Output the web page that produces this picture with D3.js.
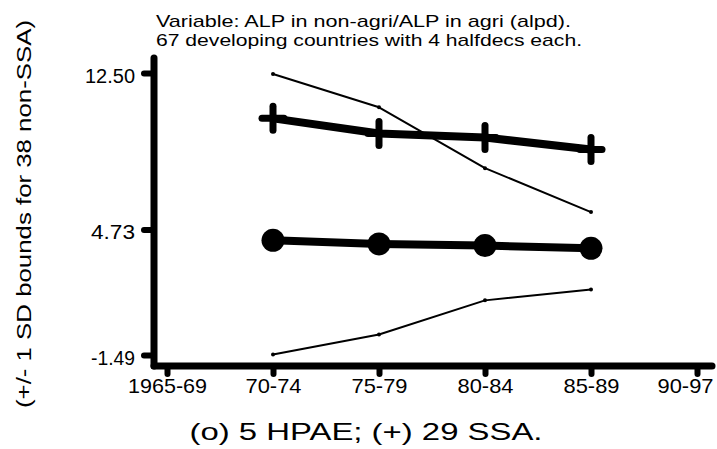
<!DOCTYPE html>
<html>
<head>
<meta charset="utf-8">
<script src="https://cdn.jsdelivr.net/npm/d3@7"></script>
<style>
  html, body { margin: 0; padding: 0; background: #fff; }
  svg { display: block; }
</style>
</head>
<body>
<svg id="chart" width="717" height="449"></svg>
<script>
// ---- data ----
const categories = ["1965-69", "70-74", "75-79", "80-84", "85-89", "90-97"];
const yTickValues = [-1.49, 4.73, 12.50];
const yTickLabels = ["-1.49", "4.73", "12.50"];
const seriesPeriods = ["70-74", "75-79", "80-84", "85-89"];
const upperBound = [12.45, 10.80, 7.78, 5.60];   // +1 SD, 38 non-SSA
const ssaValues = [10.25, 9.50, 9.30, 8.70];     // (+) 29 SSA
const hpaeValues = [4.20, 4.02, 3.94, 3.80];     // (o) 5 HPAE
const lowerBound = [-1.46, -0.47, 1.22, 1.76];    // -1 SD, 38 non-SSA
const titleLines = ["Variable: ALP in non-agri/ALP in agri (alpd).",
                    "67 developing countries with 4 halfdecs each."];
const yAxisTitle = "(+/- 1 SD bounds for 38 non-SSA)";
const xAxisTitle = "(o) 5 HPAE; (+) 29 SSA.";

const FONT = "'Liberation Sans', Arial, Arimo, Helvetica, sans-serif";

// ---- layout ----
const svg = d3.select("#chart").style("font-family", FONT);
const x = d3.scalePoint().domain(categories).range([167, 697]);
const y = d3.scaleLinear().domain([-1.49, 12.50]).range([355, 73]);
const axisX = 154, axisY = 366, xEnd = 712;

function txt(g) {
  return g.append("text").style("font-family", FONT).attr("fill", "#000");
}

// titles
txt(svg).attr("x", 156).attr("y", 27).style("font-size", "17px")
  .attr("textLength", 415).attr("lengthAdjust", "spacingAndGlyphs").text(titleLines[0]);
txt(svg).attr("x", 156).attr("y", 46).style("font-size", "17px")
  .attr("textLength", 426).attr("lengthAdjust", "spacingAndGlyphs").text(titleLines[1]);

txt(svg)
  .attr("transform", "translate(31,214) rotate(-90)")
  .attr("text-anchor", "middle").style("font-size", "21px")
  .attr("textLength", 388).attr("lengthAdjust", "spacingAndGlyphs")
  .text(yAxisTitle);

txt(svg)
  .attr("x", 366).attr("y", 440).attr("text-anchor", "middle").style("font-size", "24px")
  .attr("textLength", 353).attr("lengthAdjust", "spacingAndGlyphs")
  .text(xAxisTitle);

// axes lines
const axes = svg.append("g").attr("stroke", "#000").attr("stroke-linecap", "round").attr("fill", "none");
axes.append("line").attr("x1", axisX).attr("x2", axisX).attr("y1", 58).attr("y2", axisY).attr("stroke-width", 7);
axes.append("line").attr("x1", axisX).attr("x2", xEnd).attr("y1", axisY).attr("y2", axisY).attr("stroke-width", 7);

// y axis ticks
const yAxis = d3.axisLeft(y).tickValues(yTickValues).tickSize(0)
  .tickFormat((d, i) => yTickLabels[i]);
const gy = svg.append("g").attr("transform", `translate(${axisX},0)`).call(yAxis);
gy.select(".domain").remove();
gy.selectAll(".tick line").attr("x1", -10).attr("x2", 0)
  .attr("stroke", "#000").attr("stroke-width", 6).attr("stroke-linecap", "round");
gy.selectAll(".tick text").attr("x", -19).attr("dy", null).attr("y", 9)
  .style("font-size", "20px").style("font-family", FONT).attr("fill", "#000")
  .attr("textLength", d => (d === 12.50 ? 50 : 44)).attr("lengthAdjust", "spacingAndGlyphs");

// x axis ticks
const xAxis = d3.axisBottom(x).tickSize(0);
const gx = svg.append("g").attr("transform", `translate(0,${axisY})`).call(xAxis);
gx.select(".domain").remove();
gx.selectAll(".tick line").attr("y1", 0).attr("y2", 8)
  .attr("stroke", "#000").attr("stroke-width", 6).attr("stroke-linecap", "round");
gx.selectAll(".tick text").attr("y", 27).attr("dy", null)
  .style("font-size", "21px").style("font-family", FONT).attr("fill", "#000")
  .attr("textLength", d => (d.length > 5 ? 79 : 56)).attr("lengthAdjust", "spacingAndGlyphs")
  .attr("text-anchor", "middle")
  .attr("x", function(d) {
    const w = d.length > 5 ? 79 : 56;
    const c = x(d);
    return (c + w / 2 > xEnd + 1) ? (xEnd + 1 - w / 2 - c) : 0;
  });

// lines
const line = d3.line().x((d, i) => x(seriesPeriods[i])).y(d => y(d));
const marks = svg.append("g");

[upperBound, lowerBound].forEach(arr => {
  marks.append("path").datum(arr).attr("d", line)
    .attr("fill", "none").attr("stroke", "#000").attr("stroke-width", 2).attr("stroke-linejoin", "round");
  marks.selectAll(null).data(arr).enter().append("circle")
    .attr("cx", (d, i) => x(seriesPeriods[i])).attr("cy", d => y(d)).attr("r", 2).attr("fill", "#000");
});

marks.append("path").datum(ssaValues).attr("d", line)
  .attr("fill", "none").attr("stroke", "#000").attr("stroke-width", 8).attr("stroke-linejoin", "round");
marks.append("path").datum(hpaeValues).attr("d", line)
  .attr("fill", "none").attr("stroke", "#000").attr("stroke-width", 8).attr("stroke-linejoin", "round");

// plus markers
const plus = marks.selectAll(".plus").data(ssaValues).enter().append("g")
  .attr("transform", (d, i) => `translate(${x(seriesPeriods[i])},${y(d)})`)
  .attr("stroke", "#000").attr("stroke-width", 7).attr("stroke-linecap", "round");
plus.append("line").attr("x1", -11).attr("x2", 11);
plus.append("line").attr("y1", -12).attr("y2", 12);

// circle markers
marks.selectAll(".dot").data(hpaeValues).enter().append("circle")
  .attr("cx", (d, i) => x(seriesPeriods[i])).attr("cy", d => y(d)).attr("r", 11.5).attr("fill", "#000");
</script>
</body>
</html>
